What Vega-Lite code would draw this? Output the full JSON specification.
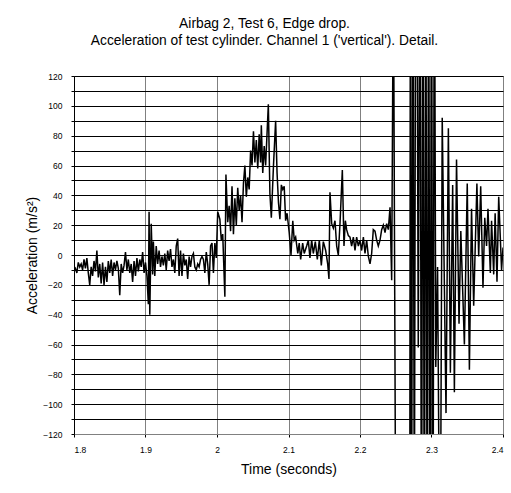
{
"$schema": "https://vega.github.io/schema/vega-lite/v6.json",
"width": 429, "height": 358,
"autosize": {"type": "none"},
"padding": {"left": 74, "top": 76, "right": 8, "bottom": 59},
"background": "white",
"title": {"text": ["Airbag 2, Test 6, Edge drop.", "Acceleration of test cylinder. Channel 1 ('vertical'). Detail."], "font": "Liberation Sans", "fontSize": 13.8, "fontWeight": "normal", "color": "#000", "anchor": "middle", "dx": -24, "offset": 24, "lineHeight": 17},
"data": {"values": [
{"t":1.800,"a":-11},{"t":1.802,"a":-9},{"t":1.804,"a":-12},{"t":1.806,"a":-5},{"t":1.808,"a":-8},{"t":1.810,"a":-6},{"t":1.812,"a":-10},{"t":1.814,"a":-3},{"t":1.816,"a":-9},{"t":1.818,"a":-2},
{"t":1.820,"a":-12},{"t":1.822,"a":-20},{"t":1.824,"a":-8},{"t":1.826,"a":-14},{"t":1.828,"a":-4},{"t":1.830,"a":-11},{"t":1.832,"a":3},{"t":1.834,"a":-15},{"t":1.836,"a":-6},{"t":1.838,"a":-19},
{"t":1.840,"a":-5},{"t":1.842,"a":-20},{"t":1.844,"a":-8},{"t":1.846,"a":-18},{"t":1.848,"a":-4},{"t":1.850,"a":-12},{"t":1.852,"a":-3},{"t":1.854,"a":-14},{"t":1.856,"a":-5},{"t":1.858,"a":-10},
{"t":1.860,"a":-4},{"t":1.862,"a":-9},{"t":1.864,"a":-27},{"t":1.866,"a":-6},{"t":1.868,"a":-12},{"t":1.870,"a":-7},{"t":1.872,"a":2},{"t":1.874,"a":-10},{"t":1.876,"a":-3},{"t":1.878,"a":-12},
{"t":1.880,"a":-6},{"t":1.882,"a":-18},{"t":1.884,"a":-4},{"t":1.886,"a":-14},{"t":1.888,"a":-2},{"t":1.890,"a":-11},{"t":1.892,"a":-3},{"t":1.894,"a":-8},{"t":1.896,"a":2},{"t":1.898,"a":-12},
{"t":1.900,"a":-5},{"t":1.902,"a":-14},{"t":1.904,"a":-33},{"t":1.905,"a":29},{"t":1.906,"a":-40},{"t":1.908,"a":21},{"t":1.910,"a":-13},{"t":1.911,"a":9},{"t":1.913,"a":-14},{"t":1.915,"a":6},
{"t":1.917,"a":-6},{"t":1.919,"a":3},{"t":1.921,"a":-8},{"t":1.923,"a":-1},{"t":1.925,"a":-7},{"t":1.927,"a":1},{"t":1.929,"a":-10},{"t":1.931,"a":3},{"t":1.933,"a":-4},{"t":1.935,"a":4},
{"t":1.937,"a":-8},{"t":1.939,"a":-3},{"t":1.941,"a":-12},{"t":1.943,"a":6},{"t":1.945,"a":11},{"t":1.947,"a":-14},{"t":1.949,"a":3},{"t":1.951,"a":-14},{"t":1.953,"a":1},{"t":1.955,"a":-7},
{"t":1.957,"a":-3},{"t":1.959,"a":-16},{"t":1.961,"a":-1},{"t":1.963,"a":-8},{"t":1.965,"a":-1},{"t":1.967,"a":1},{"t":1.969,"a":-8},{"t":1.971,"a":-10},{"t":1.973,"a":-6},{"t":1.975,"a":-8},
{"t":1.977,"a":-3},{"t":1.979,"a":-1},{"t":1.981,"a":-3},{"t":1.983,"a":-12},{"t":1.985,"a":2},{"t":1.987,"a":-6},{"t":1.989,"a":-20},{"t":1.991,"a":6},{"t":1.993,"a":8},{"t":1.995,"a":-12},
{"t":1.997,"a":8},{"t":1.999,"a":-2},{"t":2.001,"a":29},{"t":2.004,"a":24},{"t":2.006,"a":10},{"t":2.008,"a":14},{"t":2.011,"a":-28},{"t":2.0125,"a":54},{"t":2.015,"a":22},{"t":2.017,"a":33},
{"t":2.019,"a":16},{"t":2.021,"a":46},{"t":2.023,"a":14},{"t":2.025,"a":38},{"t":2.027,"a":20},{"t":2.029,"a":45},{"t":2.031,"a":30},{"t":2.033,"a":40},{"t":2.035,"a":22},{"t":2.037,"a":48},
{"t":2.039,"a":60},{"t":2.041,"a":39},{"t":2.043,"a":52},{"t":2.045,"a":44},{"t":2.047,"a":70},{"t":2.049,"a":60},{"t":2.051,"a":83},{"t":2.053,"a":62},{"t":2.055,"a":77},{"t":2.057,"a":58},
{"t":2.059,"a":81},{"t":2.061,"a":62},{"t":2.062,"a":87},{"t":2.064,"a":55},{"t":2.066,"a":73},{"t":2.068,"a":60},{"t":2.0718,"a":101},{"t":2.074,"a":41},{"t":2.076,"a":25},{"t":2.079,"a":60},
{"t":2.082,"a":90},{"t":2.084,"a":55},{"t":2.086,"a":35},{"t":2.088,"a":24},{"t":2.090,"a":47},{"t":2.092,"a":44},{"t":2.094,"a":46},{"t":2.096,"a":23},{"t":2.098,"a":28},{"t":2.101,"a":15},
{"t":2.1035,"a":0},{"t":2.106,"a":23},{"t":2.108,"a":10},{"t":2.110,"a":12},{"t":2.113,"a":1},{"t":2.115,"a":8},{"t":2.117,"a":-3},{"t":2.1198,"a":8},{"t":2.122,"a":1},{"t":2.1254,"a":6},
{"t":2.1277,"a":10},{"t":2.130,"a":-2},{"t":2.1324,"a":10},{"t":2.1347,"a":1},{"t":2.1375,"a":9},{"t":2.1403,"a":-3},{"t":2.1431,"a":10},{"t":2.1459,"a":-7},{"t":2.1487,"a":9},{"t":2.152,"a":3},
{"t":2.1548,"a":-6},{"t":2.1566,"a":-16},{"t":2.158,"a":42},{"t":2.1604,"a":21},{"t":2.1627,"a":18},{"t":2.165,"a":23},{"t":2.1674,"a":6},{"t":2.1697,"a":0},{"t":2.172,"a":21},{"t":2.1753,"a":57},
{"t":2.1776,"a":6},{"t":2.1795,"a":23},{"t":2.1813,"a":17},{"t":2.1837,"a":13},{"t":2.186,"a":12},{"t":2.1883,"a":6},{"t":2.1907,"a":12},{"t":2.193,"a":3},{"t":2.1953,"a":12},{"t":2.1977,"a":6},
{"t":2.200,"a":10},{"t":2.2023,"a":3},{"t":2.2047,"a":12},{"t":2.207,"a":1},{"t":2.2093,"a":10},{"t":2.2117,"a":-1},{"t":2.214,"a":-6},{"t":2.2163,"a":1},{"t":2.2186,"a":17},{"t":2.221,"a":16},
{"t":2.2233,"a":10},{"t":2.2256,"a":6},{"t":2.228,"a":10},{"t":2.2303,"a":17},{"t":2.2326,"a":20},{"t":2.235,"a":15},{"t":2.2373,"a":21},{"t":2.2396,"a":17},{"t":2.242,"a":32},{"t":2.2443,"a":-17},
{"t":2.2467,"a":200},{"t":2.2504,"a":-250},{"t":2.256,"a":-300},{"t":2.262,"a":-280},{"t":2.2695,"a":-250},{"t":2.2705,"a":250},{"t":2.272,"a":-250},{"t":2.274,"a":250},{"t":2.276,"a":-200},{"t":2.278,"a":250},
{"t":2.280,"a":150},{"t":2.2815,"a":-62},{"t":2.284,"a":250},{"t":2.286,"a":-250},{"t":2.288,"a":250},{"t":2.290,"a":-250},{"t":2.292,"a":250},{"t":2.294,"a":-250},{"t":2.296,"a":250},{"t":2.298,"a":-250},
{"t":2.300,"a":250},{"t":2.302,"a":-250},{"t":2.304,"a":250},{"t":2.306,"a":-75},{"t":2.3085,"a":-8},{"t":2.312,"a":-250},{"t":2.315,"a":92},{"t":2.3203,"a":-106},{"t":2.3236,"a":85},{"t":2.3264,"a":-79},
{"t":2.3296,"a":47},{"t":2.332,"a":-92},{"t":2.335,"a":64},{"t":2.3385,"a":-46},{"t":2.341,"a":16},{"t":2.346,"a":-60},{"t":2.350,"a":48},{"t":2.353,"a":-77},{"t":2.356,"a":31},{"t":2.359,"a":-34},
{"t":2.3635,"a":48},{"t":2.366,"a":-1},{"t":2.3688,"a":46},{"t":2.372,"a":-22},{"t":2.3745,"a":25},{"t":2.377,"a":6},{"t":2.379,"a":31},{"t":2.3823,"a":-12},{"t":2.384,"a":23},{"t":2.387,"a":-13},
{"t":2.389,"a":28},{"t":2.3916,"a":-18},{"t":2.394,"a":39},{"t":2.398,"a":-10},{"t":2.400,"a":5}
]},
"mark": {"type": "line", "color": "#000", "strokeWidth": 1.5, "clip": true},
"encoding": {
"x": {"field": "t", "type": "quantitative", "scale": {"domain": [1.8, 2.4], "nice": false, "zero": false},
 "axis": {"title": "Time (seconds)", "values": [1.8, 1.9, 2, 2.1, 2.2, 2.3, 2.4], "format": "~g", "grid": true, "gridColor": "#808080", "gridWidth": 1, "gridOpacity": 1, "domainColor": "#808080", "tickColor": "#000", "tickSize": 3, "labelFont": "Liberation Sans", "labelFontSize": 8.5, "labelColor": "#000", "labelPadding": 8, "titleFont": "Liberation Sans", "titleFontSize": 14, "titleFontWeight": "normal", "titleColor": "#000", "titlePadding": 9}},
"y": {"field": "a", "type": "quantitative", "scale": {"domain": [-120, 120], "nice": false, "zero": false},
 "axis": {"title": "Acceleration (m/s²)", "values": [-120,-110,-100,-90,-80,-70,-60,-50,-40,-30,-20,-10,0,10,20,30,40,50,60,70,80,90,100,110,120], "labelExpr": "datum.value % 20 == 0 ? datum.label : ''", "grid": true, "gridColor": "#000", "gridWidth": 1, "gridOpacity": 1, "domainColor": "#000", "tickColor": "#000", "tickSize": 3, "labelFont": "Liberation Sans", "labelFontSize": 8.5, "labelColor": "#000", "labelPadding": 9, "titleFont": "Liberation Sans", "titleFontSize": 14, "titleFontWeight": "normal", "titleColor": "#000", "titlePadding": 3}}
},
"config": {"view": {"stroke": "#808080", "strokeWidth": 1}}
}
